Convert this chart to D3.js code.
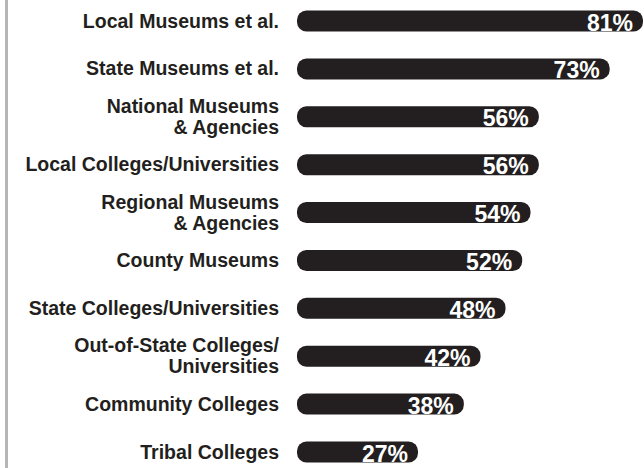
<!DOCTYPE html>
<html>
<head>
<meta charset="utf-8">
<script src="https://cdn.jsdelivr.net/npm/d3@7"></script>
<style>
  html, body { margin: 0; padding: 0; background: #fff; }
  svg { display: block; }
</style>
</head>
<body>
<svg id="chart" width="644" height="468"></svg>
<script>
// Institution types (multi-line labels split into lines)
const categories = [
  ["Local Museums et al."],
  ["State Museums et al."],
  ["National Museums", "& Agencies"],
  ["Local Colleges/Universities"],
  ["Regional Museums", "& Agencies"],
  ["County Museums"],
  ["State Colleges/Universities"],
  ["Out-of-State Colleges/", "Universities"],
  ["Community Colleges"],
  ["Tribal Colleges"]
];
// Share of respondents, percent
const values = [81, 73, 56, 56, 54, 52, 48, 42, 38, 27];

const W = 644, H = 468;
const ink = "#231f20";
const svg = d3.select("#chart");

const idx = d3.range(values.length);
const y = d3.scalePoint().domain(idx).range([21, 452]);
const x = d3.scaleLinear().domain([0, 81]).range([305.5, 643]);

const barLeft = 297, barH = 21, labelRight = 279;

// left rule
svg.append("rect")
  .attr("x", 5).attr("y", 0).attr("width", 3).attr("height", H)
  .attr("fill", "#b5b5b5");

const rows = svg.append("g").selectAll("g")
  .data(idx).join("g");

rows.append("rect")
  .attr("x", barLeft)
  .attr("y", i => y(i) - barH / 2)
  .attr("width", i => x(values[i]) - barLeft)
  .attr("height", barH)
  .attr("rx", 9.5).attr("ry", 9.5)
  .attr("fill", ink);

// category labels, right-aligned against the bars
rows.append("text")
  .attr("text-anchor", "end")
  .attr("font-family", "'Liberation Sans', Arial, sans-serif")
  .attr("font-weight", "bold")
  .attr("font-size", 19.5)
  .attr("fill", ink)
  .each(function (i) {
    const lines = categories[i];
    const t = d3.select(this);
    const lh = 21;
    const first = y(i) + 6.5 - (lines.length - 1) * lh / 2;
    lines.forEach((ln, k) => {
      t.append("tspan")
        .attr("x", labelRight)
        .attr("y", first + k * lh)
        .text(ln);
    });
  });

// value labels inside the bar ends
rows.append("text")
  .attr("text-anchor", "end")
  .attr("font-family", "'Liberation Sans', Arial, sans-serif")
  .attr("font-weight", "bold")
  .attr("font-size", 23)
  .attr("fill", "#fff")
  .attr("x", i => x(values[i]) - 10)
  .attr("y", i => y(i) + barH / 2 - 1)
  .text(i => values[i] + "%");
</script>
</body>
</html>
